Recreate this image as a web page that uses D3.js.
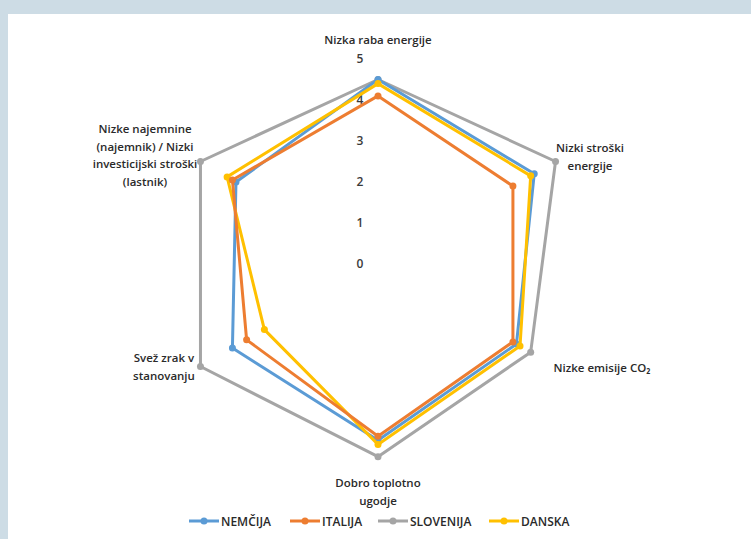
<!DOCTYPE html>
<html>
<head>
<meta charset="utf-8">
<script src="https://cdn.jsdelivr.net/npm/d3@7"></script>
<style>
    body { margin: 0; background: #cddce5; }
    svg { display: block; font-family: "Open Sans", sans-serif; }
</style>
</head>
<body>
<svg width="751" height="539"></svg>
<script>
// radar chart, values 0..5

var axes = [ 'Nizka raba energije', 'Nizki stroški energije', 'Nizke emisije CO₂',
    'Dobro toplotno ugodje', 'Svež zrak v stanovanju',
    'Nizke najemnine (najemnik) / Nizki investicijski stroški (lastnik)' ];
var ticks = [ 0, 1, 2, 3, 4, 5 ];

var seriesNames = [ 'NEMČIJA', 'ITALIJA', 'SLOVENIJA', 'DANSKA' ];
var nemcija   = [ 4.5, 4.4, 3.9, 4.3, 4.1, 4.0 ];
var italija   = [ 4.1, 3.8, 3.8, 4.2, 3.7, 4.1 ];
var slovenija = [ 4.5, 5.0, 4.3, 4.7, 5.0, 5.0 ];
var danska    = [ 4.4, 4.3, 4.0, 4.4, 3.2, 4.25 ];

var colors = [ '#5b9bd5', '#ed7d31', '#a5a5a5', '#ffc000' ];
var series = [ nemcija, italija, slovenija, danska ];

var cx = 378, cy = 264;

var svg = d3.select( 'svg' );

svg.append( 'rect' )
    .attr( 'x', 8 )
    .attr( 'y', 14 )
    .attr( 'width', 743 )
    .attr( 'height', 525 )
    .style( 'fill', '#ffffff' );

var r = d3.scaleLinear()
    .domain( [ 0, 5 ] )
    .range( [ 0, 205 ] );

var angle = d3.scalePoint()
    .domain( d3.range( axes.length + 1 ) )
    .range( [ 0, 2 * Math.PI ] );

var g = svg.append( 'g' )
    .attr( 'transform', 'translate( ' + cx + ', ' + cy + ' )' );

// tick labels left of the vertical axis
g.selectAll( 'text.tick' )
    .data( ticks )
    .enter()
    .append( 'text' )
    .attr( 'class', 'tick' )
    .attr( 'x', -18 )
    .attr( 'y', function( d ) { return -r( d ) + 4; } )
    .attr( 'text-anchor', 'middle' )
    .style( 'font-size', '12px' )
    .style( 'font-weight', 600 )
    .style( 'fill', '#3a3a3a' )
    .text( function( d ) { return d; } );

var line = d3.lineRadial()
    .angle( function( d, i ) { return angle( i ); } )
    .radius( function( d ) { return r( d ); } )
    .curve( d3.curveLinearClosed );

function pt( v, i ) {
    var a = angle( i );
    return [ r( v ) * Math.sin( a ), -r( v ) * Math.cos( a ) ];
}

// draw slovenija first so the others sit on top
var order = [ 2, 0, 3, 1 ];
order.forEach( function( k ) {
    var s = g.append( 'g' );
    s.append( 'path' )
        .attr( 'd', line( series[ k ] ) )
        .style( 'fill', 'none' )
        .style( 'stroke', colors[ k ] )
        .style( 'stroke-width', 3 )
        .style( 'stroke-linejoin', 'round' );
    s.selectAll( 'circle' )
        .data( series[ k ] )
        .enter()
        .append( 'circle' )
        .attr( 'cx', function( d, i ) { return pt( d, i )[ 0 ]; } )
        .attr( 'cy', function( d, i ) { return pt( d, i )[ 1 ]; } )
        .attr( 'r', 3.5 )
        .style( 'fill', colors[ k ] );
});

// category labels, wrapped by hand like the original
var labelLines = [
    [ 'Nizka raba energije' ],
    [ 'Nizki stroški', 'energije' ],
    [ 'Nizke emisije CO₂' ],
    [ 'Dobro toplotno', 'ugodje' ],
    [ 'Svež zrak v', 'stanovanju' ],
    [ 'Nizke najemnine', '(najemnik) / Nizki', 'investicijski stroški', '(lastnik)' ]
];
var labelPos = [ [ 0, -220 ], [ 212, -112 ], [ 224, 108 ], [ 0, 223 ], [ -214, 98 ], [ -233, -131 ] ];

labelLines.forEach( function( lines, i ) {
    var t = g.append( 'text' )
        .attr( 'text-anchor', 'middle' )
        .style( 'font-size', '11.5px' )
        .style( 'font-weight', 600 )
        .style( 'fill', '#2a2a2a' );
    lines.forEach( function( l, j ) {
        t.append( 'tspan' )
            .attr( 'x', labelPos[ i ][ 0 ] )
            .attr( 'y', labelPos[ i ][ 1 ] + j * 17.5 )
            .text( l );
    });
});

// legend
var legendX = [ 189, 290, 378, 489 ];
var legend = svg.selectAll( 'g.legend' )
    .data( seriesNames )
    .enter()
    .append( 'g' )
    .attr( 'class', 'legend' )
    .attr( 'transform', function( d, i ) { return 'translate( ' + legendX[ i ] + ', 521 )'; } );

legend.append( 'line' )
    .attr( 'x1', 0 )
    .attr( 'x2', 30 )
    .style( 'stroke', function( d, i ) { return colors[ i ]; } )
    .style( 'stroke-width', 3 );

legend.append( 'circle' )
    .attr( 'cx', 15 )
    .attr( 'r', 3.5 )
    .style( 'fill', function( d, i ) { return colors[ i ]; } );

legend.append( 'text' )
    .attr( 'x', 32 )
    .attr( 'y', 4.5 )
    .style( 'font-size', '12px' )
    .style( 'font-weight', 600 )
    .style( 'fill', '#2a2a2a' )
    .text( function( d ) { return d; } );
</script>
</body>
</html>
